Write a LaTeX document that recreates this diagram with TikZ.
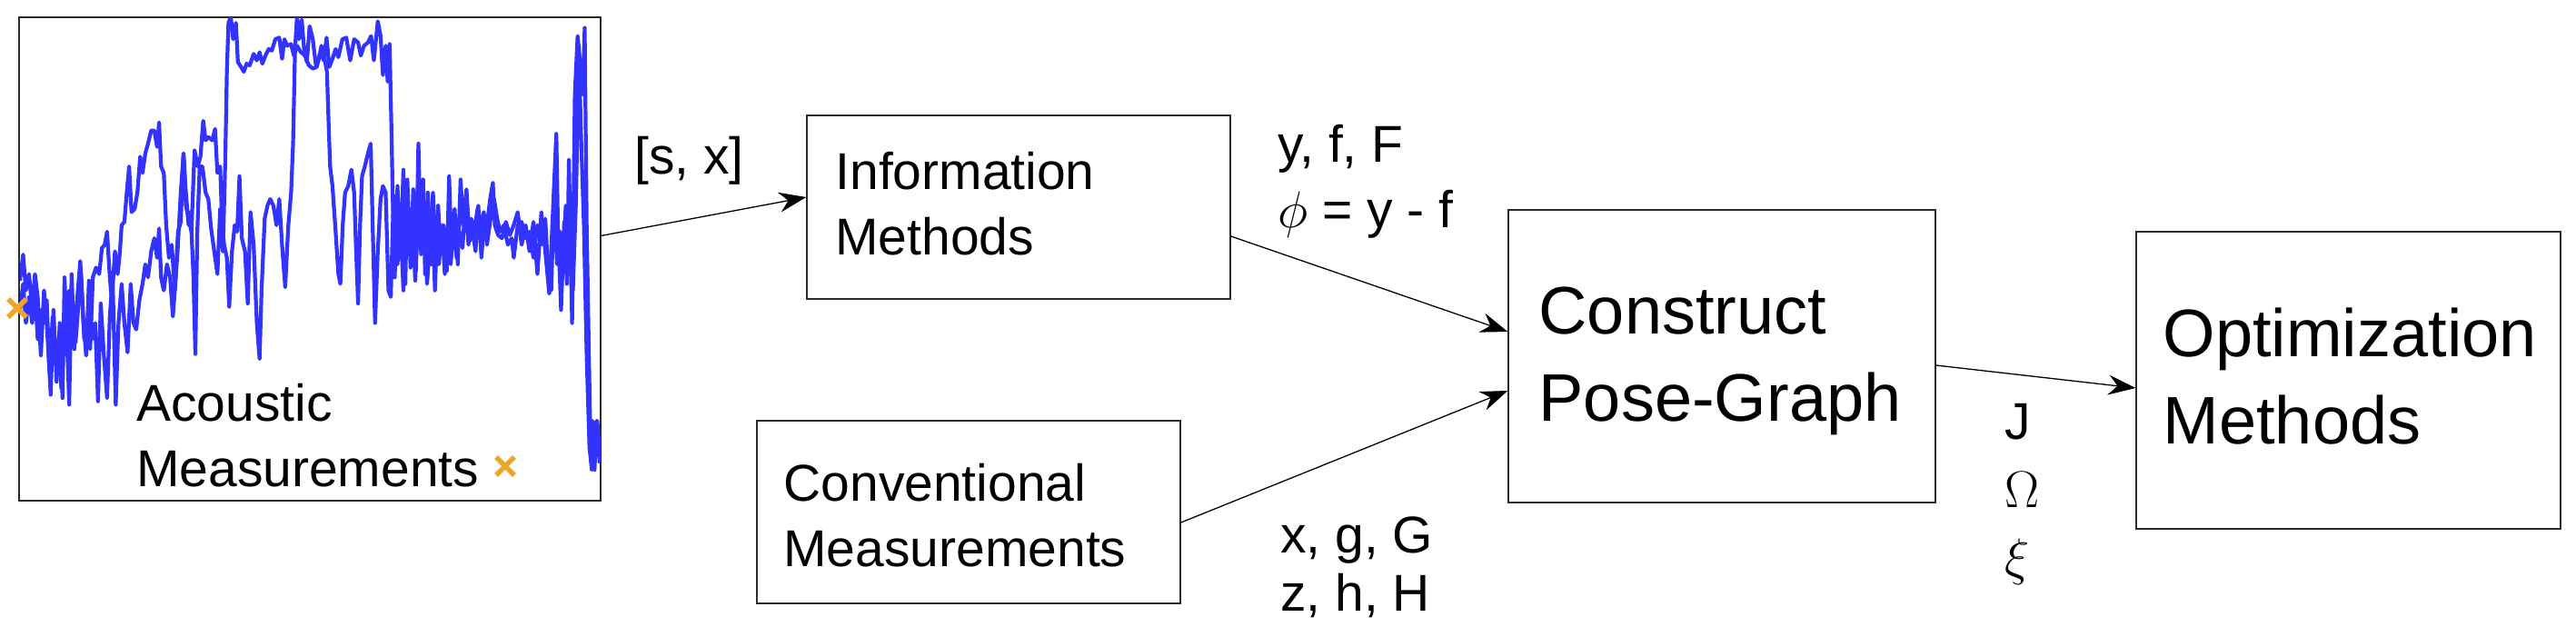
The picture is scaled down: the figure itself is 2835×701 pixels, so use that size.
\RequirePackage{fix-cm}
\documentclass[tikz,border=0pt]{standalone}
\usepackage{fontspec}
\setmainfont{Liberation Sans}
\usetikzlibrary{arrows.meta,calc}
\definecolor{curveblue}{HTML}{3333FF}
\definecolor{crossorange}{HTML}{EDA52A}
\definecolor{boxgray}{HTML}{2A2A2A}
\begin{document}
\begin{tikzpicture}[x=1pt,y=-1pt,
  box/.style={draw=boxgray,line width=1.4pt,inner sep=0pt},
  small/.style={font=\fontsize{57}{72}\selectfont},
  big/.style={font=\fontsize{74}{96}\selectfont},
  txt/.style={align=left,anchor=west,inner sep=0pt},
  lbl/.style={small,anchor=base west,inner sep=0pt},
  conn/.style={line width=1.3pt,-{Stealth[length=30pt,width=22pt,inset=10pt]}},
  sig/.style={curveblue,line width=4.2pt,line join=round},
  crossmk/.style={crossorange,line width=5.5pt}
]
\useasboundingbox (0,0) rectangle (2835,701);

% boxes
\node[box,minimum width=639pt,minimum height=532pt] (plot) at (341,285) {};
\node[box,minimum width=466pt,minimum height=202pt] (info) at (1121,228) {};
\node[box,minimum width=470pt,minimum height=322pt] (pose) at (1895,392) {};
\node[box,minimum width=466pt,minimum height=201pt] (conv) at (1066,563.5) {};
\node[box,minimum width=467pt,minimum height=327pt] (optim) at (2584.5,418.5) {};

% signal curves
\begin{scope}
\clip (plot.north west) rectangle (plot.south east);
\begin{scope}[shift={(1.6,-3.5)},xscale=0.4337,yscale=0.359]
\draw[sig] plot coordinates {(47,870)(55,790)(62,900)(70,850)(78,960)(85,850)(92,920)(100,1100)(108,900)(115,1000)(125,1220)(132,960)(140,1180)(148,1000)(155,1230)(160,860)(165,1000)(172,1250)(178,850)(185,1080)(192,930)(200,810)(208,1000)(215,1100)(222,870)(230,1050)(238,1000)(245,1240)(252,940)(260,1100)(268,1230)(275,980)(282,860)(290,1250)(297,1000)(305,880)(312,1000)(320,1090)(328,880)(335,1000)(342,1020)(350,930)(358,880)(365,820)(372,860)(380,780)(388,740)(395,800)(400,710)(405,860)(412,900)(420,820)(428,860)(435,980)(440,900)(448,720)(455,690)(462,480)(468,600)(475,700)(480,660)(487,850)(492,1095)(497,720)(503,520)(510,520)(518,600)(525,620)(532,710)(540,780)(548,850)(555,650)(562,780)(568,500)(572,230)(576,80)(582,60)(588,130)(595,80)(600,200)(608,215)(615,230)(622,205)(630,210)(640,175)(648,195)(655,170)(662,205)(670,180)(678,160)(686,165)(695,130)(705,125)(712,190)(718,130)(725,150)(735,145)(742,180)(750,150)(760,170)(770,180)(780,210)(790,220)(800,215)(810,170)(818,195)(825,125)(832,215)(840,190)(848,160)(855,185)(865,130)(875,125)(885,195)(895,130)(905,140)(912,180)(920,150)(930,140)(938,120)(945,195)(955,75)(962,120)(968,240)(975,150)(980,260)(985,145)(990,430)(993,620)(998,860)(1005,580)(1012,800)(1020,530)(1025,880)(1030,560)(1038,830)(1045,590)(1052,840)(1058,450)(1063,700)(1070,560)(1075,850)(1082,600)(1090,820)(1095,710)(1100,900)(1108,640)(1115,790)(1122,700)(1130,840)(1136,550)(1142,780)(1150,650)(1158,820)(1165,560)(1172,700)(1180,590)(1188,750)(1195,710)(1203,780)(1210,640)(1218,800)(1225,680)(1232,700)(1240,620)(1247,570)(1252,700)(1260,730)(1270,740)(1280,690)(1290,730)(1300,700)(1310,660)(1320,760)(1330,700)(1340,780)(1350,690)(1360,850)(1370,660)(1380,780)(1390,910)(1400,640)(1408,420)(1412,700)(1420,960)(1428,690)(1435,880)(1440,500)(1448,1000)(1455,300)(1462,120)(1468,200)(1475,300)(1480,95)(1485,700)(1490,1050)(1495,1400)(1500,1300)(1505,1450)(1510,1300)(1518,1430)};
\draw[sig] plot coordinates {(47,960)(55,880)(62,1000)(70,920)(78,1000)(85,900)(92,1050)(100,960)(108,1000)(115,930)(122,1150)(130,980)(138,1100)(145,1050)(152,1200)(160,960)(166,1100)(172,900)(180,1000)(188,1060)(195,950)(202,850)(210,1050)(218,1000)(225,1080)(232,860)(240,830)(248,850)(255,770)(262,760)(268,720)(275,860)(280,930)(288,780)(295,850)(300,790)(305,700)(312,690)(318,600)(324,520)(330,660)(338,650)(345,600)(352,490)(358,540)(365,480)(372,450)(380,410)(388,410)(395,460)(400,385)(405,520)(412,540)(418,700)(425,800)(432,760)(440,900)(447,780)(455,600)(462,480)(468,640)(475,680)(482,720)(490,470)(498,520)(505,490)(512,380)(518,440)(525,430)(535,440)(542,405)(548,540)(555,520)(560,700)(565,760)(572,800)(578,950)(585,780)(592,700)(598,720)(604,550)(610,740)(618,780)(625,940)(632,660)(640,760)(648,1000)(655,1110)(660,900)(668,680)(675,640)(682,620)(690,640)(698,700)(705,620)(712,760)(720,890)(728,700)(735,600)(740,450)(745,160)(750,60)(755,130)(762,70)(768,160)(775,200)(782,90)(790,130)(798,210)(805,190)(812,150)(820,190)(826,230)(830,380)(834,520)(840,580)(848,720)(855,850)(860,880)(866,700)(872,600)(880,580)(888,530)(895,600)(900,780)(905,940)(910,700)(915,550)(922,520)(930,480)(937,450)(942,700)(948,1000)(955,780)(962,620)(968,580)(975,600)(982,900)(988,920)(995,610)(1000,700)(1005,820)(1012,680)(1020,900)(1028,600)(1035,780)(1042,650)(1050,870)(1058,640)(1065,790)(1072,680)(1080,880)(1088,730)(1095,600)(1102,780)(1110,820)(1118,700)(1125,850)(1132,740)(1140,820)(1148,690)(1155,800)(1162,720)(1170,770)(1178,620)(1185,760)(1192,680)(1200,720)(1208,650)(1216,700)(1224,660)(1232,760)(1240,690)(1250,620)(1258,680)(1265,720)(1275,700)(1285,760)(1295,740)(1300,800)(1310,700)(1320,690)(1330,740)(1340,720)(1350,800)(1360,700)(1370,760)(1380,680)(1388,860)(1395,900)(1402,620)(1410,820)(1418,720)(1425,820)(1432,640)(1440,700)(1450,900)(1458,620)(1465,150)(1470,400)(1478,700)(1485,1100)(1492,1380)(1498,1450)(1505,1350)(1512,1300)(1518,1400)};
\end{scope}
\end{scope}
\draw[draw=boxgray,line width=1.4pt] (plot.north west) rectangle (plot.south east);

% crosses
\coordinate (c1) at (19,339);
\coordinate (c2) at (556,513);
\draw[crossmk] ($(c1)+(-10,-10)$) -- ($(c1)+(10,10)$) ($(c1)+(-10,10)$) -- ($(c1)+(10,-10)$);
\draw[crossmk] ($(c2)+(-10,-10)$) -- ($(c2)+(10,10)$) ($(c2)+(-10,10)$) -- ($(c2)+(10,-10)$);

% texts in boxes
\node[txt,small] (acoustic) at (150,479) {Acoustic\\Measurements};
\node[txt,small] (infotext) at ([xshift=32pt,yshift=4pt]info.west) {Information\\Methods};
\node[txt,small] (convtext) at ([xshift=30pt,yshift=-4pt]conv.west) {Conventional\\Measurements};
\node[txt,big] (posetext) at ([xshift=34pt,yshift=-5pt]pose.west) {Construct\\Pose-Graph};
\node[txt,big] (optimtext) at ([xshift=30pt,yshift=4.5pt]optim.west) {Optimization\\Methods};

% connectors
\draw[conn] ([yshift=25.5pt]plot.east) -- ([yshift=11pt]info.west);
\draw[conn] ([yshift=-32pt]info.east) -- ([yshift=27pt]pose.west);
\draw[conn] ([yshift=-11.5pt]conv.east) -- ([yshift=-38pt]pose.west);
\draw[conn] ([yshift=-10pt]pose.east) -- ([yshift=-8.5pt]optim.west);

% labels
\node[lbl] (l1) at (698,191) {[s, x]};
\node[lbl] (l2) at (1406,178) {y, f, F};
\node[lbl] (l3) at (1406,250) {$\phi$ = y - f};
\node[lbl] (l4) at (1409,608) {x, g, G};
\node[lbl] (l5) at (1409,672) {z, h, H};
\node[lbl] (l6) at (2206,483) {J};
\node[lbl] (l7) at (2206,558) {$\Omega$};
\node[lbl] (l8) at (2206,632) {$\xi$};
\end{tikzpicture}
\end{document}
